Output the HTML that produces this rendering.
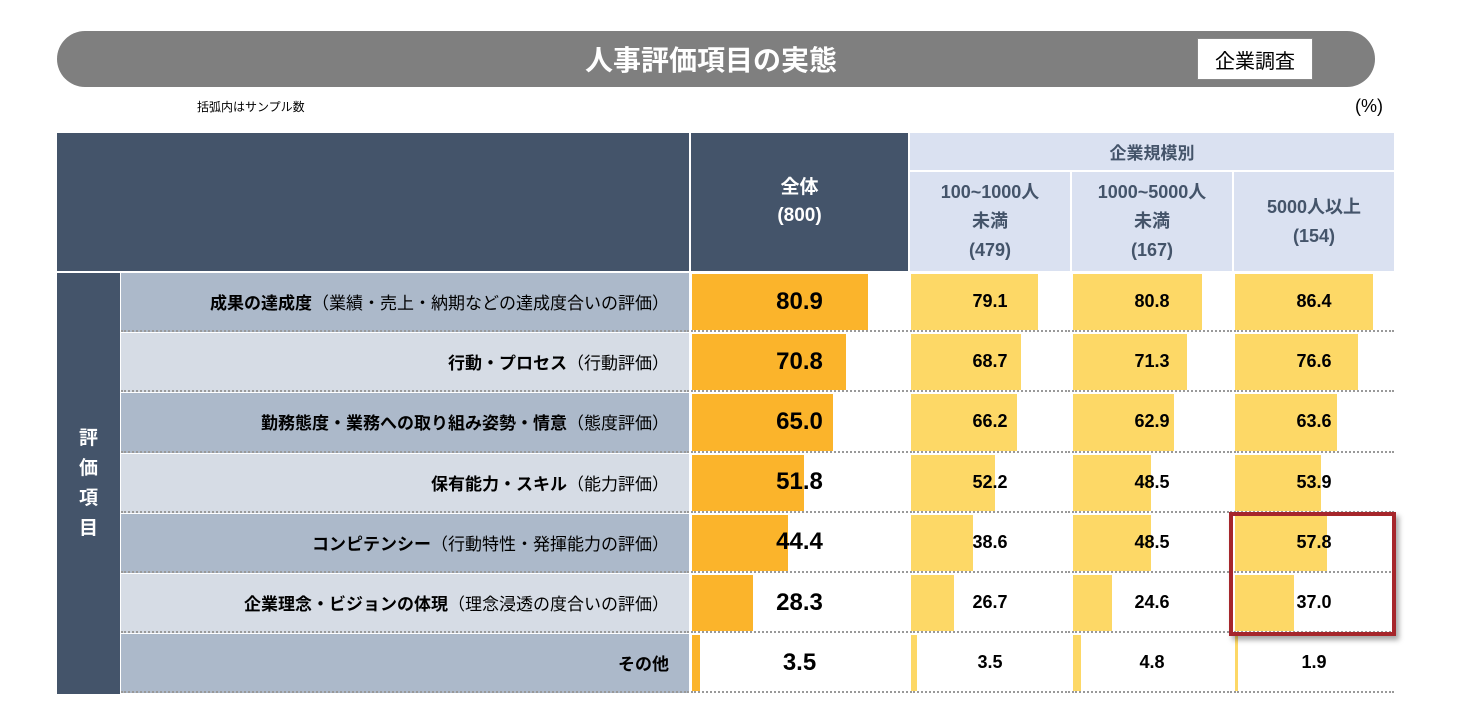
<!DOCTYPE html>
<html><head><meta charset="utf-8"><style>
body{margin:0;width:1467px;height:726px;background:#fff;position:relative;overflow:hidden;font-family:"Liberation Sans","Noto Sans CJK JP",sans-serif}
.a{position:absolute;box-sizing:border-box}
.c{display:flex;align-items:center;justify-content:center;text-align:center}
</style></head><body>
<div class="a c" style="left:57px;top:31px;width:1318px;height:56px;background:#7f7f7f;border-radius:28px;color:#fff;font-size:28px;font-weight:bold;padding-right:10px">人事評価項目の実態</div>
<div class="a c" style="left:1197px;top:38px;width:116px;height:42px;background:#fff;border:1px solid #888;font-size:20px">企業調査</div>
<div class="a" style="left:197px;top:98px;font-size:12px">括弧内はサンプル数</div>
<div class="a" style="left:1355px;top:96px;font-size:18px">(%)</div>
<div class="a" style="left:57px;top:133px;width:632px;height:138px;background:#44546a"></div>
<div class="a c" style="left:691px;top:133px;width:217px;height:138px;background:#44546a;color:#fff;font-size:19px;font-weight:bold;line-height:28px">全体<br>(800)</div>
<div class="a c" style="left:910px;top:133px;width:484px;height:37px;background:#dae1f1;color:#44546a;font-size:17px;font-weight:bold">企業規模別</div>
<div id="sub"></div>
<div class="a c" style="left:57px;top:273px;width:63px;height:421px;background:#44546a;color:#fff;font-size:19px;font-weight:bold;line-height:30px">評<br>価<br>項<br>目</div>
<div id="rows"></div>
<div class="a" style="left:1229px;top:512px;width:167px;height:124px;border:4px solid #a6262b;box-shadow:3px 4px 5px rgba(0,0,0,.35)"></div>
<script>
const categories=["成果の達成度","行動・プロセス","勤務態度・業務への取り組み姿勢・情意","保有能力・スキル","コンピテンシー","企業理念・ビジョンの体現","その他"];
const subtitles=["（業績・売上・納期などの達成度合いの評価）","（行動評価）","（態度評価）","（能力評価）","（行動特性・発揮能力の評価）","（理念浸透の度合いの評価）",""];
const overall=[80.9,70.8,65.0,51.8,44.4,28.3,3.5];
const small=[79.1,68.7,66.2,52.2,38.6,26.7,3.5];
const mid=[80.8,71.3,62.9,48.5,48.5,24.6,4.8];
const large=[86.4,76.6,63.6,53.9,57.8,37.0,1.9];
const subHeaders=["100~1000人<br>未満<br>(479)","1000~5000人<br>未満<br>(167)","5000人以上<br>(154)"];
const cols=[{x:691,w:217,d:overall,col:"#fbb42b",fs:24},{x:910,w:160,d:small,col:"#fdd866",fs:18},{x:1072,w:160,d:mid,col:"#fdd866",fs:18},{x:1234,w:160,d:large,col:"#fdd866",fs:18}];
const sub=document.getElementById('sub');
subHeaders.forEach((t,i)=>{const e=document.createElement('div');e.className='a c';


e.style.cssText=`left:${cols[i+1].x}px;top:172px;width:160px;height:99px;background:#dae1f1;color:#44546a;font-size:18px;font-weight:bold;line-height:29px`;e.innerHTML=t;sub.appendChild(e);});
const rows=document.getElementById('rows');const y0=273,rh=60.2;
categories.forEach((c,i)=>{const y=y0+i*rh;
const l=document.createElement('div');l.className='a';


l.style.cssText=`left:121px;top:${y}px;width:568px;height:${rh-1}px;background:${i%2?'#d6dce5':'#acb9ca'};display:flex;align-items:center;justify-content:flex-end;padding-right:20px;font-size:17px;border-bottom:2px dotted #999`;
l.innerHTML=`<b>${c}</b><span>${subtitles[i]}</span>`;rows.appendChild(l);
cols.forEach((k,j)=>{const cell=document.createElement('div');cell.className='a';


cell.style.cssText=`left:${k.x}px;top:${y}px;width:${k.w}px;height:${rh-1}px;background:#fff;border-bottom:2px dotted #999`;
const b=document.createElement('div');b.className='a';


b.style.cssText=`left:1px;top:1px;height:${rh-4}px;width:${k.w*k.d[i]/100}px;background:${k.col}`;cell.appendChild(b);
const t=document.createElement('div');t.className='a c';


t.style.cssText=`left:0;top:0;width:100%;height:100%;font-size:${k.fs}px;font-weight:bold`;t.textContent=k.d[i].toFixed(1);cell.appendChild(t);
rows.appendChild(cell);});});
</script>
</body></html>
